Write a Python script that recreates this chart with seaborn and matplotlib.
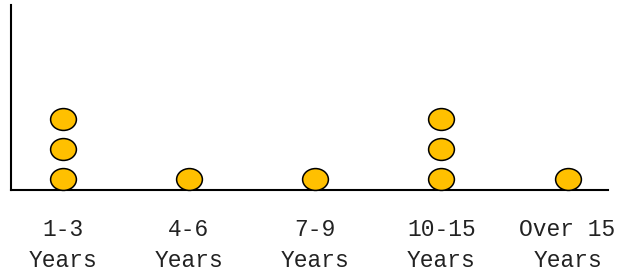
import numpy as np
import pandas as pd
import seaborn as sns
import matplotlib.pyplot as plt
from matplotlib.path import Path
from matplotlib.transforms import Affine2D

# data
categories = ["1-3\nYears", "4-6\nYears", "7-9\nYears", "10-15\nYears", "Over 15\nYears"]
counts = [3, 1, 1, 3, 1]

# one row per dot, stacked upward
rows = []
for cat, n in zip(categories, counts):
    for k in range(1, n + 1):
        rows.append({"group": cat, "level": k})
df = pd.DataFrame(rows)

sns.set_style("white")
plt.rcParams['font.family'] = ['Liberation Mono', 'DejaVu Sans Mono']

fig = plt.figure(figsize=(6.2, 2.74), dpi=100)
ax = fig.add_axes([11 / 620, (274 - 190) / 274, (608 - 11) / 620, (190 - 5) / 274])

# slightly wide ellipse marker
ellipse = Path.unit_circle().transformed(Affine2D().scale(1.18, 1.0))

sns.scatterplot(data=df, x="group", y="level", marker=ellipse, s=345,
                color="#FFC000", edgecolor="black", linewidth=1.1, ax=ax,
                legend=False, zorder=3, clip_on=False)

ax.set_xlim(-0.41, 4.32)
ax.set_ylim(1 - 11 / 30, 1 + 174 / 30)
ax.set_yticks([])
ax.set_xlabel("")
ax.set_ylabel("")
ax.tick_params(axis="x", length=0, pad=20, labelsize=16.5, labelcolor="#222222")
for lab in ax.get_xticklabels():
    lab.set_linespacing(1.45)
for s in ["top", "right"]:
    ax.spines[s].set_visible(False)
for s in ["left", "bottom"]:
    ax.spines[s].set_color("black")
    ax.spines[s].set_linewidth(1.5)

fig.savefig("out.png", dpi=100)
